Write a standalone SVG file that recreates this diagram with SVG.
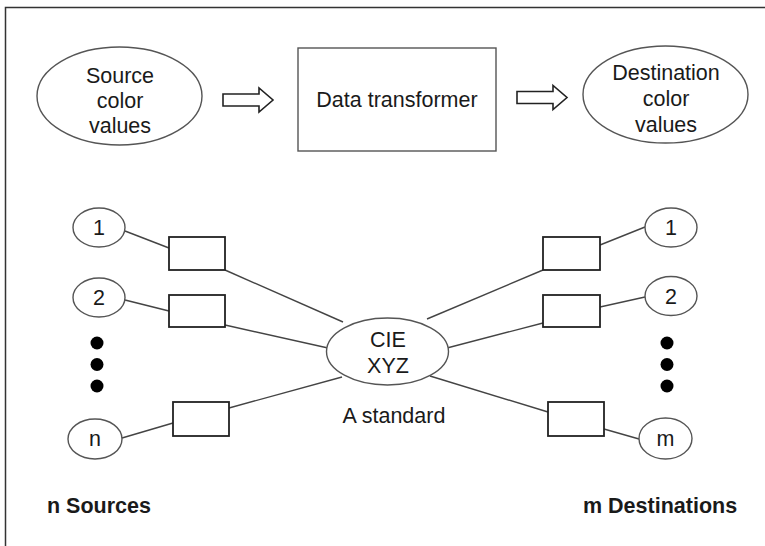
<svg xmlns="http://www.w3.org/2000/svg" xmlns:xlink="http://www.w3.org/1999/xlink" width="765" height="546" viewBox="0 0 765 546">
  <style>
    .frame { fill: none; stroke: #333; stroke-width: 1.5; }
    .oval { fill: #fff; stroke: #555; stroke-width: 1.4; }
    .box { fill: #fff; stroke: #222; stroke-width: 1.8; }
    .bigbox { fill: #fff; stroke: #555; stroke-width: 1.4; }
    .wire { stroke: #444; stroke-width: 1.4; fill: none; }
    .arrow { fill: #fff; stroke: #222; stroke-width: 1.6; stroke-linejoin: miter; }
    .dot { fill: #000; }
    text { font-family: "Liberation Sans", Arial, sans-serif; font-size: 21.5px; fill: #1a1a1a; text-anchor: middle; }
    .label { font-weight: bold; text-anchor: start; }
  </style>
  <defs>
    <path id="blockArrow" class="arrow" d="M0,-6 H36 V-12 L50,0 L36,12 V6 H0 Z"/>
  </defs>

  <rect width="765" height="546" fill="#fff"/>
  <path class="frame" d="M5.5,546 V7.5 H765"/>

  <!-- top row: source -> transformer -> destination -->
  <g id="source-values">
    <ellipse class="oval" cx="119.5" cy="96" rx="82.5" ry="49"/>
    <text x="120" y="83">Source</text>
    <text x="120" y="108">color</text>
    <text x="120" y="133">values</text>
  </g>
  <g id="arrow-in">
    <use xlink:href="#blockArrow" href="#blockArrow" transform="translate(223,100)"/>
  </g>
  <g id="data-transformer">
    <rect class="bigbox" x="298" y="48" width="198" height="103"/>
    <text x="397" y="107">Data transformer</text>
  </g>
  <g id="arrow-out">
    <use xlink:href="#blockArrow" href="#blockArrow" transform="translate(517,97.5)"/>
  </g>
  <g id="destination-values">
    <ellipse class="oval" cx="665.5" cy="94.5" rx="82.5" ry="48.5"/>
    <text x="666" y="80">Destination</text>
    <text x="666" y="106">color</text>
    <text x="666" y="132">values</text>
  </g>

  <!-- connectors of the hub network -->
  <g id="connectors">
    <line class="wire" x1="125" y1="231" x2="169" y2="248"/>
    <line class="wire" x1="225" y1="270" x2="343" y2="322"/>
    <line class="wire" x1="125" y1="300" x2="169" y2="311"/>
    <line class="wire" x1="225" y1="325" x2="328" y2="348"/>
    <line class="wire" x1="122" y1="438" x2="173" y2="423"/>
    <line class="wire" x1="229" y1="408" x2="342" y2="377"/>
    <line class="wire" x1="600" y1="245" x2="645" y2="227"/>
    <line class="wire" x1="427" y1="319" x2="543" y2="270"/>
    <line class="wire" x1="600" y1="307" x2="645" y2="297"/>
    <line class="wire" x1="447" y1="348" x2="543" y2="323"/>
    <line class="wire" x1="430" y1="376" x2="548" y2="412"/>
    <line class="wire" x1="604" y1="429" x2="639" y2="439"/>
  </g>

  <!-- sources -->
  <g id="source-1">
    <ellipse class="oval" cx="99" cy="227.5" rx="26" ry="19.5"/>
    <text x="99" y="235">1</text>
  </g>
  <g id="source-2">
    <ellipse class="oval" cx="99" cy="297.5" rx="26" ry="19.5"/>
    <text x="99" y="305">2</text>
  </g>
  <g id="source-n">
    <ellipse class="oval" cx="95" cy="439" rx="27" ry="20"/>
    <text x="95" y="446">n</text>
  </g>
  <g id="source-ellipsis">
    <circle class="dot" cx="97" cy="343" r="6.5"/>
    <circle class="dot" cx="97" cy="364.5" r="6.5"/>
    <circle class="dot" cx="97" cy="386" r="6.5"/>
  </g>
  <g id="source-transform-1"><rect class="box" x="169" y="237" width="56" height="33"/></g>
  <g id="source-transform-2"><rect class="box" x="169" y="295" width="56" height="32"/></g>
  <g id="source-transform-n"><rect class="box" x="173" y="402" width="56" height="34"/></g>

  <!-- hub -->
  <g id="cie-xyz">
    <ellipse class="oval" cx="387.5" cy="351.5" rx="61" ry="33.5"/>
    <text x="388" y="347">CIE</text>
    <text x="388" y="373">XYZ</text>
  </g>
  <g id="hub-caption">
    <text x="394" y="423">A standard</text>
  </g>

  <!-- destinations -->
  <g id="dest-transform-1"><rect class="box" x="543" y="237" width="57" height="33"/></g>
  <g id="dest-transform-2"><rect class="box" x="543" y="295" width="57" height="32"/></g>
  <g id="dest-transform-m"><rect class="box" x="548" y="402" width="56" height="34"/></g>
  <g id="dest-1">
    <ellipse class="oval" cx="671" cy="227.5" rx="26" ry="19.5"/>
    <text x="671" y="235">1</text>
  </g>
  <g id="dest-2">
    <ellipse class="oval" cx="671" cy="296" rx="26" ry="19.5"/>
    <text x="671" y="303.5">2</text>
  </g>
  <g id="dest-ellipsis">
    <circle class="dot" cx="667" cy="343" r="6.5"/>
    <circle class="dot" cx="667" cy="364.5" r="6.5"/>
    <circle class="dot" cx="667" cy="386" r="6.5"/>
  </g>
  <g id="dest-m">
    <ellipse class="oval" cx="665.5" cy="438.5" rx="26.5" ry="20.5"/>
    <text x="665.5" y="446">m</text>
  </g>

  <!-- captions -->
  <text class="label" x="47" y="513">n Sources</text>
  <text class="label" x="583" y="513">m Destinations</text>
</svg>
